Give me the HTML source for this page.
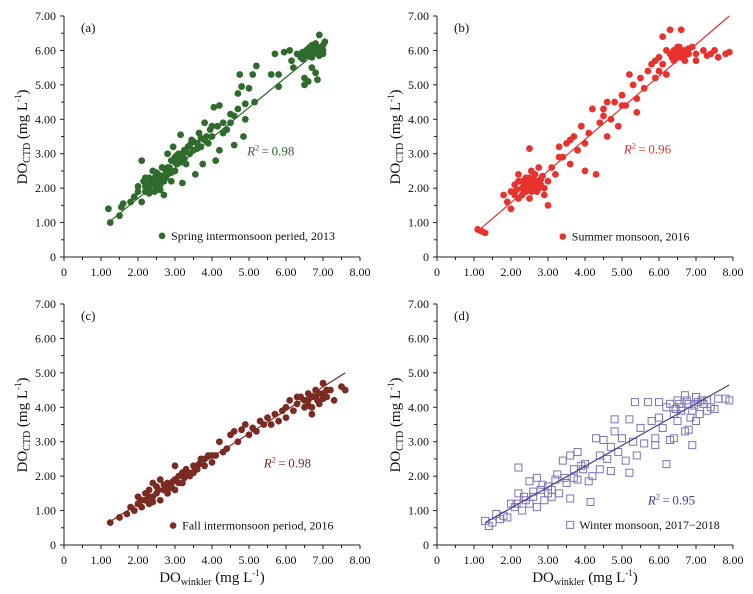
<!DOCTYPE html>
<html><head><meta charset="utf-8"><style>
html,body{margin:0;padding:0;background:#fff}
svg{display:block;font-family:"Liberation Serif",serif}
</style></head><body>
<svg id="chart" width="753" height="594"></svg>
<script>
const xTicks=["0","1.00","2.00","3.00","4.00","5.00","6.00","7.00","8.00"];
const yTicks=["0","1.00","2.00","3.00","4.00","5.00","6.00","7.00"];
const aPts=[[1.2,1.4],[1.25,1.0],[1.5,1.2],[1.55,1.45],[1.6,1.55],[1.8,1.6],[1.9,1.75],[2.0,1.9],[2.1,2.8],[2.1,1.6],[2.15,2.2],[2.2,1.9],[2.25,2.1],[2.3,2.0],[2.3,2.3],[2.4,2.1],[2.4,2.5],[2.45,1.9],[2.5,2.2],[2.5,2.0],[2.55,2.4],[2.6,2.1],[2.6,2.3],[2.65,2.6],[2.7,1.8],[2.7,2.2],[2.75,2.5],[2.8,2.4],[2.8,3.0],[2.85,2.6],[2.9,2.2],[2.9,2.8],[2.95,3.2],[3.0,2.5],[3.0,2.9],[3.05,2.7],[3.1,3.0],[3.1,2.8],[3.15,3.55],[3.2,2.15],[3.2,2.9],[3.25,3.1],[3.3,2.7],[3.35,3.2],[3.4,3.0],[3.45,3.4],[3.5,3.1],[3.55,2.4],[3.6,3.3],[3.65,3.6],[3.7,3.2],[3.75,2.7],[3.8,3.9],[3.85,3.5],[3.9,3.3],[3.95,3.7],[4.0,3.5],[4.05,4.35],[4.1,2.8],[4.15,3.8],[4.2,3.1],[4.2,4.4],[4.3,3.6],[4.4,3.7],[4.5,3.9],[4.6,3.25],[4.6,4.1],[4.7,4.75],[4.75,5.3],[4.8,4.95],[4.85,3.5],[4.9,4.0],[4.9,4.45],[5.0,4.9],[5.1,5.3],[5.15,4.5],[5.2,5.55],[5.6,5.3],[5.7,5.9],[5.8,5.3],[5.8,4.95],[5.95,5.95],[6.1,6.0],[6.15,5.7],[6.2,5.5],[6.3,5.9],[6.4,5.8],[6.45,5.95],[6.5,5.0],[6.5,5.2],[6.55,6.0],[6.6,5.1],[6.6,5.9],[6.65,6.1],[6.7,5.5],[6.75,6.0],[6.8,5.35],[6.8,6.2],[6.85,5.15],[6.85,5.95],[6.9,6.45],[6.95,6.1],[7.0,6.0],[7.05,6.25],[6.7,5.8],[6.6,6.05],[7.0,5.9],[2.35,2.2],[2.55,2.15],[2.75,2.3],[3.0,2.75],[3.2,3.0],[2.2,2.05],[6.9,5.85],[6.75,5.9],[2.3,1.85],[2.45,2.3],[2.6,1.95],[2.65,2.35],[2.8,2.6],[2.9,2.45],[3.05,2.95],[3.15,2.75],[3.3,3.05],[3.4,3.25],[3.5,3.35],[3.6,3.15],[3.7,3.45],[3.8,3.4],[2.0,2.05],[2.2,2.3],[2.5,2.45],[3.25,2.85],[6.5,5.85],[6.6,5.95],[6.8,6.05],[6.9,6.0],[6.45,5.75],[7.0,6.15],[6.7,6.15],[6.55,5.85],[4.0,3.8],[4.3,3.9],[4.5,4.15],[4.7,4.3]];
const bPts=[[1.1,0.8],[1.2,0.75],[1.3,0.7],[1.8,1.8],[1.9,1.6],[2.0,1.9],[2.0,1.4],[2.1,2.1],[2.1,1.8],[2.2,1.7],[2.2,2.2],[2.3,2.0],[2.3,1.8],[2.4,2.3],[2.4,1.9],[2.5,2.1],[2.5,1.7],[2.5,3.15],[2.55,2.5],[2.6,2.0],[2.6,2.3],[2.7,1.9],[2.7,2.2],[2.75,2.6],[2.8,2.1],[2.85,2.35],[2.9,1.8],[2.9,2.0],[3.0,2.2],[3.0,1.5],[3.1,2.6],[3.2,2.4],[3.3,3.2],[3.4,2.9],[3.5,3.3],[3.6,2.7],[3.7,3.5],[3.8,3.1],[3.9,3.8],[4.0,3.3],[4.0,2.5],[4.1,3.6],[4.2,4.3],[4.3,2.4],[4.4,3.9],[4.5,4.1],[4.6,4.5],[4.7,4.0],[4.8,4.5],[4.9,3.8],[5.0,4.7],[5.1,4.4],[5.2,5.3],[5.3,5.0],[5.4,4.6],[5.5,5.2],[5.6,4.9],[5.7,5.4],[5.8,5.6],[5.9,5.2],[6.0,5.8],[6.0,5.4],[6.1,6.4],[6.1,5.6],[6.2,6.0],[6.2,5.3],[6.3,5.9],[6.3,6.6],[6.4,5.7],[6.5,6.1],[6.5,5.9],[6.6,6.6],[6.6,5.8],[6.7,6.0],[6.7,5.7],[6.8,5.9],[6.9,6.1],[7.0,5.9],[7.0,5.7],[7.2,6.0],[7.4,5.9],[7.6,5.8],[7.8,5.9],[7.9,5.95],[7.5,6.0],[7.3,5.85],[5.4,4.2],[4.6,3.5],[3.6,3.4],[2.35,2.1],[2.65,2.15],[2.45,1.95],[2.2,2.4],[2.3,2.2],[2.4,2.05],[2.5,2.3],[2.6,2.15],[2.7,2.05],[2.8,2.25],[2.35,1.95],[2.55,1.9],[2.65,2.4],[2.75,2.0],[2.15,1.95],[2.45,2.2],[6.4,6.0],[6.5,5.8],[6.6,6.0],[6.7,5.85],[6.45,5.95],[6.55,6.1],[6.8,6.05],[6.35,5.8],[5.9,5.7],[5.0,4.4],[4.5,4.3],[3.3,2.9]];
const cPts=[[1.25,0.65],[1.5,0.8],[1.7,0.9],[1.8,1.1],[1.9,1.0],[2.0,1.2],[2.0,1.4],[2.1,1.1],[2.2,1.3],[2.2,1.5],[2.3,1.2],[2.3,1.6],[2.4,1.4],[2.5,1.5],[2.5,1.7],[2.6,1.3],[2.6,1.9],[2.7,1.6],[2.8,1.8],[2.8,1.5],[2.9,1.7],[3.0,1.9],[3.0,1.6],[3.1,2.0],[3.2,2.1],[3.2,1.8],[3.3,2.2],[3.4,2.0],[3.5,2.3],[3.6,2.2],[3.7,2.5],[3.8,2.3],[3.9,2.6],[4.0,2.4],[4.1,2.6],[4.2,3.0],[4.3,2.7],[4.4,2.8],[4.5,3.2],[4.6,3.3],[4.7,3.0],[4.8,3.35],[4.9,3.5],[5.0,3.2],[5.1,3.4],[5.2,3.3],[5.3,3.6],[5.4,3.5],[5.5,3.7],[5.6,3.5],[5.7,3.8],[5.8,3.6],[5.9,3.9],[6.0,4.0],[6.0,3.7],[6.1,4.2],[6.2,3.9],[6.3,4.1],[6.4,4.3],[6.5,4.0],[6.6,4.4],[6.6,4.2],[6.7,4.0],[6.8,4.5],[6.8,4.3],[6.9,4.1],[7.0,4.4],[7.0,4.7],[7.1,4.3],[7.2,4.5],[7.3,4.2],[7.5,4.6],[7.6,4.5],[6.7,3.8],[3.0,2.3],[2.4,1.8],[2.1,1.3],[2.3,1.4],[2.4,1.25],[2.55,1.6],[2.7,1.75],[2.85,1.65],[2.95,1.85],[3.1,1.8],[3.25,1.95],[3.35,2.1],[3.5,2.1],[3.65,2.35],[3.8,2.5],[4.0,2.6],[6.3,4.3],[6.5,4.2],[6.7,4.3],[6.9,4.4],[7.1,4.5],[6.6,4.05],[6.85,4.2],[7.0,4.25]];
const dPts=[[1.3,0.7],[1.4,0.55],[1.5,0.65],[1.6,0.9],[1.7,0.75],[1.8,0.85],[1.9,0.8],[2.0,1.2],[2.1,1.1],[2.2,2.25],[2.2,1.5],[2.3,1.0],[2.4,1.3],[2.5,1.85],[2.5,1.2],[2.6,1.4],[2.7,1.95],[2.7,1.1],[2.8,1.6],[2.9,1.3],[3.0,1.7],[3.0,1.5],[3.1,1.4],[3.2,1.9],[3.3,1.5],[3.4,2.45],[3.5,1.8],[3.6,2.6],[3.6,1.35],[3.7,2.2],[3.8,2.7],[3.8,1.9],[3.9,2.3],[4.0,2.35],[4.1,1.85],[4.15,1.25],[4.2,2.0],[4.3,3.1],[4.4,2.6],[4.4,2.2],[4.5,3.05],[4.6,2.5],[4.7,2.85],[4.7,2.15],[4.8,3.65],[4.8,3.3],[4.9,2.7],[5.0,3.1],[5.1,2.45],[5.2,3.65],[5.2,2.1],[5.3,3.0],[5.35,4.15],[5.4,2.6],[5.5,3.4],[5.6,2.95],[5.7,4.15],[5.8,3.6],[5.9,3.1],[5.9,2.9],[6.0,4.15],[6.0,3.7],[6.1,3.4],[6.2,2.35],[6.2,4.0],[6.3,3.05],[6.4,3.1],[6.4,3.8],[6.5,4.2],[6.6,3.9],[6.7,4.35],[6.7,3.3],[6.8,4.1],[6.8,3.35],[6.9,2.9],[6.9,3.9],[7.0,4.3],[7.0,3.6],[7.1,3.8],[7.2,4.1],[7.3,4.2],[7.4,4.0],[7.5,3.95],[7.6,4.25],[7.8,4.25],[7.9,4.2],[6.6,4.0],[6.5,3.6],[2.15,1.2],[2.35,1.4],[2.6,1.55],[2.85,1.75],[3.1,1.6],[3.25,2.05],[3.45,1.95],[3.7,1.95],[3.95,2.2],[6.3,4.1],[6.55,4.1],[6.75,4.2],[6.95,4.05],[7.15,4.2],[7.3,3.9],[6.85,3.7],[7.05,4.15],[6.45,3.95]];
const fitA=[[1.2,1.0],[7.0,6.1]],fitB=[[1.1,0.75],[7.9,7.0]],fitC=[[1.2,0.65],[7.6,5.0]],fitD=[[1.3,0.65],[7.9,4.65]];
const panels=[
 {id:"a",ox:0,oy:0,pts:aPts,fit:fitA,col:"#2f6b2c",shape:"c",lab:"(a)",r2:"0.98",r2x:4.95,r2y:2.95,leg:"Spring intermonsoon peried, 2013",lx:2.65,ly:0.15,xt:false},
 {id:"b",ox:373,oy:0,pts:bPts,fit:fitB,col:"#e8322e",shape:"c",lab:"(b)",r2:"0.96",r2x:5.05,r2y:3.0,leg:"Summer monsoon, 2016",lx:3.4,ly:0.13,xt:false},
 {id:"c",ox:0,oy:288,pts:cPts,fit:fitC,col:"#7a2b22",shape:"c",lab:"(c)",r2:"0.98",r2x:5.4,r2y:2.25,leg:"Fall intermonsoon period, 2016",lx:2.95,ly:0.1,xt:true},
 {id:"d",ox:373,oy:288,pts:dPts,fit:fitD,col:"#4b3b8e",shape:"s",lab:"(d)",r2:"0.95",r2x:5.7,r2y:1.18,leg:"Winter monsoon, 2017\u22122018",lx:3.6,ly:0.12,xt:true}];
const NS="http://www.w3.org/2000/svg";
const svg=document.getElementById("chart");
function mk(t,a,p){const e=document.createElementNS(NS,t);for(const k in a)e.setAttribute(k,a[k]);(p||svg).appendChild(e);return e;}
panels.forEach(P=>{
 const g=mk("g",{transform:`translate(${P.ox},${P.oy})`});
 
 
 const X=v=>64+v*(296/8), Y=v=>257-v*(241/7);
 mk("line",{x1:64,y1:Y(7),x2:64,y2:257,stroke:"#222","stroke-width":1},g);
 mk("line",{x1:64,y1:257,x2:360,y2:257,stroke:"#222","stroke-width":1},g);
 xTicks.forEach((t,i)=>{
  mk("line",{x1:X(i),y1:257,x2:X(i),y2:261,stroke:"#222"},g);
  if(i<8)mk("line",{x1:X(i+0.5),y1:257,x2:X(i+0.5),y2:260,stroke:"#222"},g);
  const tx=mk("text",{x:X(i),y:276,"text-anchor":"middle","font-size":12,fill:"#111"},g);tx.textContent=t;
  
 });
 yTicks.forEach((t,i)=>{
  mk("line",{x1:60,y1:Y(i),x2:64,y2:Y(i),stroke:"#222"},g);
  if(i<7)mk("line",{x1:61,y1:Y(i+0.5),x2:64,y2:Y(i+0.5),stroke:"#222"},g);
  const tx=mk("text",{x:56,y:Y(i)+4,"text-anchor":"end","font-size":12,fill:"#111"},g);tx.textContent=t;
  
 });
 const yt=mk("text",{transform:"translate(27,137) rotate(-90)","text-anchor":"middle","font-size":15,fill:"#111"},g);
 yt.innerHTML='DO<tspan font-size="10" dy="3">CTD</tspan><tspan dy="-3"> (mg L</tspan><tspan font-size="9" dy="-6">-1</tspan><tspan dy="6">)</tspan>';
 
 if(P.xt){const xt=mk("text",{x:212,y:294,"text-anchor":"middle","font-size":15,fill:"#111"},g);
  xt.innerHTML='DO<tspan font-size="10" dy="3">winkler</tspan><tspan dy="-3"> (mg L</tspan><tspan font-size="9" dy="-6">-1</tspan><tspan dy="6">)</tspan>';
  }
 const pl=mk("text",{x:81,y:32,"font-size":13,fill:"#111"},g);pl.textContent=P.lab;
 
 P.pts.forEach(p=>{
  let m;
  if(P.shape==="c")m=mk("circle",{cx:X(p[0]),cy:Y(p[1]),r:3.4,fill:P.col},g);
  else m=mk("rect",{x:X(p[0])-3.5,y:Y(p[1])-3.5,width:7,height:7,fill:"none",stroke:"#7e72b4","stroke-width":1},g);
  
  
 });
 const f=mk("line",{x1:X(P.fit[0][0]),y1:Y(P.fit[0][1]),x2:X(P.fit[1][0]),y2:Y(P.fit[1][1]),stroke:P.col,"stroke-width":1.2},g);
 
 const r=mk("text",{x:X(P.r2x),y:Y(P.r2y),"font-size":13,fill:P.col},g);
 r.innerHTML='<tspan font-style="italic">R</tspan><tspan font-size="8" dy="-5">2</tspan><tspan dy="5">\u2009=\u20090.'+P.r2.slice(2)+'</tspan>';
 
 const lg=mk("g",{},g);
 
 
 const lx=X(P.lx),ly=Y(P.ly)-16;
 if(P.shape==="c")mk("circle",{cx:lx,cy:ly,r:3.3,fill:P.col},lg);
 else mk("rect",{x:lx-3.5,y:ly-3.5,width:7,height:7,fill:"none",stroke:"#7e72b4"},lg);
 const lt=mk("text",{x:lx+9,y:ly+4,"font-size":12,fill:"#111"},lg);lt.textContent=P.leg;
});
</script>
</body></html>
